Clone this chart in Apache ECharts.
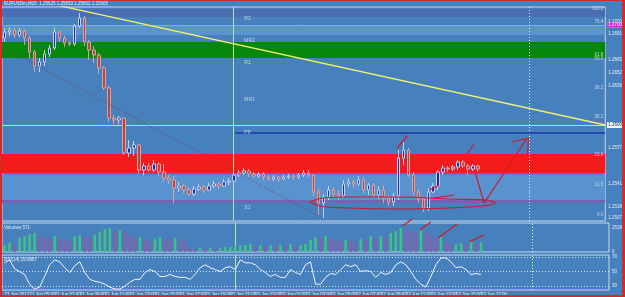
<!DOCTYPE html>
<html><head><meta charset="utf-8">
<script src="https://cdn.jsdelivr.net/npm/echarts@6/dist/echarts.min.js"></script>
<style>
html,body{margin:0;padding:0;background:#4680bd;overflow:hidden}
#c{width:625px;height:297px;position:absolute;left:0;top:0}
#f{position:absolute;left:0;top:0;width:625px;height:297px;box-sizing:border-box;border-style:solid;border-color:#d42a2a;border-width:1px 3px 2px 2px;pointer-events:none}
</style></head>
<body><div id="c"></div><div id="f"></div>
<script>
// ---------------- data ----------------
const categories = Array.from({length: 121}, (_, i) => String(i));
const tickLabels = ['21 Jun 2012','21 Jun 05:00','21 Jun 07:00','21 Jun 09:00','21 Jun 11:00','21 Jun 13:00','21 Jun 15:00','21 Jun 17:00','21 Jun 19:00','21 Jun 21:00','21 Jun 23:00','22 Jun 01:00','22 Jun 03:00','22 Jun 05:00','22 Jun 07:00','22 Jun 09:00','22 Jun 11:00','22 Jun 13:00','22 Jun 15:00','22 Jun 17:00'];

const open = [1.2687,1.2693,1.2695,1.2690,1.2694,1.2687,1.2673,1.2659,1.2663,1.2671,
1.2677,1.2693,1.2687,1.2682,1.2681,1.2699,1.2707,1.2683,1.2675,1.2670,
1.2657,1.2637,1.2607,1.2605,1.2607,1.2572,1.2577,1.2580,1.2555,1.2559,
1.2555,1.2561,1.2553,1.2547,1.2545,1.2537,1.2539,1.2535,1.2531,1.2536,
1.2538,1.2535,1.2539,1.2541,1.2539,1.2543,1.2544,1.2550,1.2552,1.2554,
1.2551,1.2549,1.2551,1.2548,1.2546,1.2548,1.2546,1.2548,1.2549,1.2548,
1.2550,1.2552,1.2550,1.2533,1.2522,1.2528,1.2535,1.2531,1.2529,1.2541,
1.2543,1.2541,1.2545,1.2535,1.2540,1.2530,1.2535,1.2527,1.2523,1.2529,
1.2567,1.2575,1.2550,1.2533,1.2526,1.2517,1.2533,1.2539,1.2553,1.2557,
1.2556,1.2558,1.2563,1.2559,1.2556,1.2559];
const close = [1.2693,1.2695,1.2690,1.2694,1.2687,1.2673,1.2659,1.2663,1.2671,1.2677,
1.2693,1.2687,1.2682,1.2681,1.2699,1.2707,1.2683,1.2675,1.2670,1.2657,
1.2637,1.2607,1.2605,1.2607,1.2572,1.2577,1.2580,1.2555,1.2559,1.2555,
1.2561,1.2553,1.2547,1.2545,1.2537,1.2539,1.2535,1.2531,1.2536,1.2538,
1.2535,1.2539,1.2541,1.2539,1.2543,1.2544,1.2550,1.2552,1.2554,1.2551,
1.2549,1.2551,1.2548,1.2546,1.2548,1.2546,1.2548,1.2549,1.2548,1.2550,
1.2552,1.2550,1.2533,1.2522,1.2528,1.2535,1.2531,1.2529,1.2541,1.2543,
1.2541,1.2545,1.2535,1.2540,1.2530,1.2535,1.2527,1.2523,1.2529,1.2567,
1.2575,1.2550,1.2533,1.2526,1.2517,1.2533,1.2539,1.2553,1.2557,1.2556,
1.2558,1.2563,1.2559,1.2556,1.2559,1.2556];
const high = [1.2697,1.2698,1.2697,1.2697,1.2696,1.2689,1.2675,1.2667,1.2675,1.2680,
1.2697,1.2695,1.2689,1.2684,1.2701,1.2712,1.2709,1.2685,1.2679,1.2672,
1.2659,1.2639,1.2610,1.2609,1.2608,1.2585,1.2584,1.2581,1.2562,1.2562,
1.2565,1.2563,1.2561,1.2550,1.2549,1.2543,1.2541,1.2538,1.2539,1.2541,
1.2540,1.2542,1.2544,1.2543,1.2546,1.2547,1.2553,1.2555,1.2557,1.2556,
1.2553,1.2553,1.2553,1.2550,1.2550,1.2549,1.2550,1.2551,1.2551,1.2552,
1.2555,1.2555,1.2551,1.2536,1.2531,1.2539,1.2538,1.2535,1.2545,1.2547,
1.2546,1.2549,1.2548,1.2542,1.2542,1.2539,1.2540,1.2530,1.2532,1.2575,
1.2583,1.2577,1.2553,1.2536,1.2528,1.2537,1.2542,1.2555,1.2560,1.2559,
1.2560,1.2565,1.2565,1.2561,1.2561,1.2560];
const low = [1.2683,1.2689,1.2687,1.2688,1.2680,1.2667,1.2653,1.2653,1.2659,1.2668,
1.2675,1.2683,1.2678,1.2679,1.2679,1.2697,1.2679,1.2665,1.2662,1.2651,
1.2635,1.2603,1.2601,1.2601,1.2570,1.2568,1.2569,1.2551,1.2550,1.2553,
1.2553,1.2549,1.2543,1.2541,1.2522,1.2533,1.2532,1.2529,1.2529,1.2534,
1.2532,1.2534,1.2537,1.2536,1.2538,1.2540,1.2541,1.2548,1.2550,1.2548,
1.2547,1.2547,1.2545,1.2544,1.2544,1.2543,1.2545,1.2546,1.2545,1.2546,
1.2548,1.2547,1.2529,1.2510,1.2507,1.2525,1.2527,1.2525,1.2527,1.2538,
1.2537,1.2539,1.2532,1.2530,1.2527,1.2526,1.2522,1.2519,1.2519,1.2525,
1.2560,1.2548,1.2530,1.2522,1.2513,1.2514,1.2532,1.2535,1.2550,1.2553,
1.2554,1.2555,1.2557,1.2550,1.2554,1.2553];
const volume = [730,940,830,1460,1660,1870,1980,1660,1560,1460,
1660,1460,1250,1140,1660,1770,1660,1560,1770,2080,
2390,2500,2180,2290,2080,1660,1460,1560,1250,1140,
1350,1560,1460,1250,1460,1250,1140,420,310,420,
310,420,310,420,520,520,620,730,730,830,
620,730,620,730,620,730,620,830,620,730,
830,1250,1560,1460,1660,1350,1250,1140,1250,1140,
1040,1350,1250,1660,1460,1660,1560,1980,2180,2500,
2290,2180,1980,2290,2080,1770,1460,1560,1140,830,
830,940,830,1140,830,1040];
const rsi = [62,66,54,50,46,32.7,26,28.7,43.3,59.3,
66,63.3,55.3,48.7,58,63.3,48.7,39.3,36.7,35.3,
32.7,28.7,26,26,30,35.3,39.3,39.3,48.7,52.7,
50,43.3,43.3,46,43.3,42,42,39.3,46,55.3,
59.3,55.3,52.7,50,55.3,56.7,52.7,66,62,62,
59.3,52.7,48.7,43.3,46,42,42,52.7,48.7,46,
59.3,63.3,32.7,32.7,42,47.3,46,52.7,59.3,56.7,
59.3,50,51.3,50,42,48.7,46,48.7,59.3,63.3,
59.3,50,39.3,32.7,28.7,43.3,59.3,68.7,68.7,63.3,
55.3,56.7,52.7,46,47.3,46];

const priceTicks = [1.2703,1.2691,1.2665,1.2652,1.2639,1.2577,1.2541,1.2518,1.2507];
const yellowBoxes = [1.2674,1.2562];
const magentaBoxes = [1.2714,1.2524];
const whiteBoxes = [1.2647,1.2632,1.2618,1.2603,1.2588,1.2556,1.2535];
const volTicks = [0,2518];
const rsiLevels = [30,50,70];

const bandHigh = [1.2716,1.2700,1.2683,1.2571,1.2550,1.2525];
const bandLow  = [1.2708,1.2690,1.2667,1.2552,1.2525,1.2522];
const solidLevels  = [1.2718,1.2702,1.2700,1.2666,1.2664,1.2634,1.2550,1.2507];
const brightLevels = [1.2618,1.2539];
const dottedLevels = [1.2710,1.2648,1.2588,1.2519];
const dashedLevels = [1.2630,1.2603];
const greenLevels  = [1.2674];
const redInnerLevels = [1.2567,1.2562];

const pivotNames  = ['R2','MR2','R1','MR1','PP','S1'];
const pivotPrices = [1.2706,1.2684,1.2662,1.2625,1.2592,1.2517];
const fibTexts  = ['100.0','76.4','61.8','50.0','38.2','38.2','23.6','11.5','0.0'];
const fibPrices = [1.2716,1.2703,1.2670,1.2666,1.2637,1.2608,1.2570,1.2540,1.2510];

const trendLine   = [[10.4,1.2720],[120.5,1.2600]];
const channelLine = [[-0.5,1.2678],[63.3,1.2508]];
const pivotLine   = [[46.3,1.2592],[120.5,1.2592]];
const vLineSolid  = [45.9];
const vLineDotted = [105.3];
const ellipse = [[61.3,1.2523],[63.9,1.2527],[68.9,1.2528],[78.8,1.2528],[88.8,1.2526],[96.8,1.2525],[98.4,1.2522],[95.8,1.2519],[88.8,1.2517],[78.8,1.2516],[68.9,1.2517],[63.3,1.2519],[61.3,1.2523]];
const arrowPath = [[94.4,1.2553],[96.2,1.2522],[104.7,1.2586]];
const arrowHead = [[101.9,1.2583],[105.1,1.2587],[104.9,1.2569]];
const priceSlashes = [[[78.8,1.2577],[80.8,1.2589]],[[92.6,1.2570],[94.2,1.2581]],[[85.2,1.2535],[87.2,1.2540]],[[86.2,1.2527],[90.2,1.2530]]];
const volSlashes = [[[79.4,2707],[81.2,3435]],[[82.8,2290],[85.0,3123]],[[86.4,1457],[90.2,2915]],[[92.6,1041],[95.6,1770]]];

// ---------------- chart ----------------
const FONT = 'Liberation Sans';
const TXT = '#e8eef8';
const N = categories.length;
const grids = [
  {left: 2, width: 607, top: 7, height: 214},
  {left: 2, width: 607, top: 223, height: 29},
  {left: 2, width: 607, top: 255, height: 36}
].map(g => Object.assign(g, {show: true, borderColor: '#c8d8ee', borderWidth: 1, backgroundColor: 'transparent'}));

const catAxis = (gi, showLabels) => ({
  type: 'category', gridIndex: gi, data: categories, boundaryGap: true,
  axisLine: {show: false}, axisTick: {show: false}, splitLine: {show: false},
  axisLabel: showLabels ? {
    interval: 4, margin: 2, align: 'left', fontSize: 4.5, fontFamily: FONT, color: TXT,
    formatter: (v, i) => tickLabels[i / 5] || ''
  } : {show: false}
});
const valAxis = gi => ({type: 'value', gridIndex: gi, min: -0.5, max: N - 0.5, show: false});

const rightAxis = (gi, min, max, ticks, fmt) => ({
  type: 'value', gridIndex: gi, position: 'right', min, max,
  axisLine: {show: false}, axisTick: {show: false}, splitLine: {show: false},
  axisLabel: {customValues: ticks, formatter: fmt, fontSize: 4.5, fontFamily: FONT, color: TXT, margin: 3}
});

const levelLine = (p, style) => ({yAxis: p, lineStyle: style});
const levelData = [].concat(
  solidLevels.map(p => levelLine(p, {color: '#c4d6ee', width: 1, type: 'solid'})),
  brightLevels.map(p => levelLine(p, {color: '#ffffff', width: 1.2, type: 'solid'})),
  dottedLevels.map(p => levelLine(p, {color: '#d0dcf0', width: 1, type: [1, 2]})),
  dashedLevels.map(p => levelLine(p, {color: '#d0dcf0', width: 1, type: [5, 3]})),
  greenLevels.map(p => levelLine(p, {color: '#74c874', width: 1, type: 'solid'})),
  redInnerLevels.map(p => levelLine(p, {color: '#ffc0c0', width: 1, type: 'solid'}))
);
const bandColors = ['#4a6eb1', '#5a94d0', '#07870b', '#f31c1c', '#5892cf', '#7264b2'];
const bandData = bandHigh.map((h, i) => [{yAxis: h, itemStyle: {color: bandColors[i]}}, {yAxis: bandLow[i]}]);

const box = (p, bg, fg) => ({yAxis: p, label: {backgroundColor: bg, color: fg}});
const boxData = [].concat(
  yellowBoxes.map(p => box(p, '#f0f040', '#202020')),
  magentaBoxes.map(p => box(p, '#e020e0', '#ffffff')),
  whiteBoxes.map(p => box(p, '#f4f6fa', '#203050'))
);

const RED = '#d01828';
const overlay = (data, color, width, type, extra) => Object.assign({
  type: 'line', xAxisIndex: 3, yAxisIndex: 0, data, symbol: 'none', silent: true, z: 8,
  lineStyle: {color, width, type: type || 'solid'}, animation: false
}, extra || {});

const series = [
  {type: 'line', xAxisIndex: 3, yAxisIndex: 0, data: [], z: 0, silent: true,
   markArea: {silent: true, data: bandData}},
  {type: 'line', xAxisIndex: 3, yAxisIndex: 0, data: [], z: 1, silent: true,
   markLine: {silent: true, symbol: ['none', 'none'], label: {show: false}, data: levelData}},
  {type: 'candlestick', xAxisIndex: 0, yAxisIndex: 0, z: 5, barWidth: 3,
   data: open.map((o, i) => [o, close[i], low[i], high[i]]),
   itemStyle: {color: '#1e2aa6', color0: '#b84646', borderColor: '#c4d0ee', borderColor0: '#d6a2a2', borderWidth: 1}},
  {type: 'bar', xAxisIndex: 1, yAxisIndex: 1, barWidth: 2.5, z: 5,
   data: volume.map((v, i) => ({value: v, itemStyle: {color: (i === 0 || v >= volume[i - 1]) ? '#42c184' : '#8a5ea8'}}))},
  {type: 'line', xAxisIndex: 2, yAxisIndex: 2, data: rsi, symbol: 'none', z: 5,
   lineStyle: {color: '#f2f6fc', width: 1},
   markLine: {silent: true, symbol: ['none', 'none'], label: {show: false},
     lineStyle: {color: '#d6e2f2', type: [1, 2], width: 1}, data: rsiLevels.map(v => ({yAxis: v}))}},
  overlay(trendLine, '#f0f070', 1.3),
  overlay(channelLine, '#8c3450', 1, [1, 2]),
  overlay(pivotLine, '#1a36a6', 1.3),
  ...[[3, 0], [4, 1], [5, 2]].map(([xa, ya]) => ({
    type: 'line', xAxisIndex: xa, yAxisIndex: ya, data: [], z: 7, silent: true,
    markLine: {silent: true, symbol: ['none', 'none'], label: {show: false},
      data: [].concat(
        vLineSolid.map(v => ({xAxis: v, lineStyle: {color: '#b8e2a4', width: 1, type: 'solid'}})),
        vLineDotted.map(v => ({xAxis: v, lineStyle: {color: '#e6eef8', width: 1, type: [1, 2]}}))
      )}
  })),
  overlay(ellipse, RED, 1.2, 'solid', {smooth: 0.4, z: 9}),
  overlay(arrowPath, RED, 1.2, 'solid', {z: 9}),
  overlay(arrowHead, RED, 1.2, 'solid', {z: 9}),
  ...priceSlashes.map(s => overlay(s, RED, 1.2, 'solid', {z: 9})),
  ...volSlashes.map(s => overlay(s, RED, 1.2, 'solid', {xAxisIndex: 4, yAxisIndex: 1, clip: false, z: 9})),
  {type: 'scatter', xAxisIndex: 3, yAxisIndex: 0, symbolSize: 0, z: 9, silent: true,
   data: pivotPrices.map((p, i) => ({value: [48.1, p], name: pivotNames[i]})),
   label: {show: true, position: 'right', distance: 0, formatter: q => q.name, fontSize: 5, fontFamily: FONT, color: '#dde6f4'}},
  {type: 'scatter', xAxisIndex: 3, yAxisIndex: 0, symbolSize: 0, z: 9, silent: true,
   data: fibPrices.map((p, i) => ({value: [120.3, p], name: fibTexts[i]})),
   label: {show: true, position: 'left', distance: 1, formatter: q => q.name, fontSize: 4.5, fontFamily: FONT, color: '#dde6f4'}},
  {type: 'line', xAxisIndex: 3, yAxisIndex: 0, data: [], z: 10, silent: true,
   markLine: {silent: true, symbol: ['none', 'none'], lineStyle: {color: 'transparent', width: 1},
     label: {show: true, position: 'end', distance: 2, fontSize: 4.5, fontFamily: FONT, padding: [0, 1],
       formatter: q => Number(q.value).toFixed(4)},
     data: boxData}}
];

const titleStyle = {fontSize: 4.5, fontFamily: FONT, color: TXT, fontWeight: 'normal'};
const option = {
  animation: false,
  backgroundColor: '#4680bd',
  title: [
    {text: 'EURUSDm,M15  1.25625 1.25653 1.25602 1.25605', left: 4, top: 1, padding: 0, textStyle: titleStyle},
    {text: 'Volumes 571', left: 4, top: 225, padding: 0, textStyle: titleStyle},
    {text: 'RSI(14) 29.6867', left: 4, top: 257, padding: 0, textStyle: titleStyle}
  ],
  grid: grids,
  xAxis: [catAxis(0, false), catAxis(1, false), catAxis(2, true), valAxis(0), valAxis(1), valAxis(2)],
  yAxis: [
    rightAxis(0, 1.2504, 1.2718, priceTicks, v => v.toFixed(4)),
    rightAxis(1, 0, 3020, volTicks, v => String(v)),
    rightAxis(2, 24.7, 72.7, rsiLevels, v => String(v))
  ],
  series
};
const chart = echarts.init(document.getElementById('c'), null, {renderer: 'canvas'});
chart.setOption(option);
</script></body></html>
